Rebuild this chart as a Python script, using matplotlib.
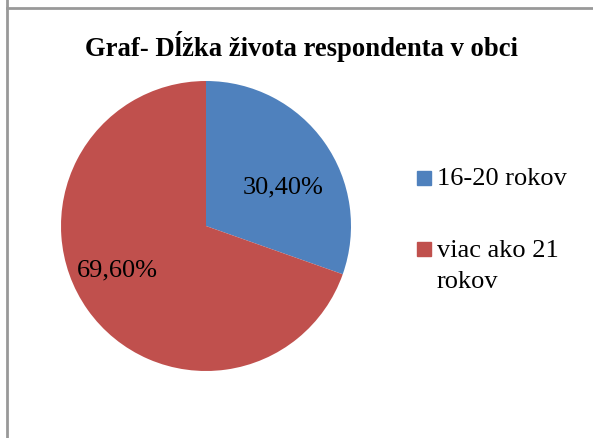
import matplotlib.pyplot as plt
from matplotlib.patches import Rectangle
from matplotlib.lines import Line2D

title = 'Graf- Dĺžka života respondenta v obci'
labels = ['16-20 rokov', 'viac ako 21\nrokov']
values = [30.4, 69.6]
colors = ['#4F81BD', '#C0504D']

W, H = 593, 439
fig = plt.figure(figsize=(W / 100, H / 100), dpi=100)
plt.rcParams['font.family'] = ['Liberation Serif', 'DejaVu Serif']

# pie: centre (206, 227) px, radius 145 px
cx, cy, r = 206, 227, 145
ax = fig.add_axes([(cx - r) / W, (H - cy - r) / H, 2 * r / W, 2 * r / H])


def fmt(p):
    return ('%.2f%%' % p).replace('.', ',')


wedges, _, autotexts = ax.pie(values, colors=colors, startangle=90, counterclock=False,
                              autopct=fmt, pctdistance=0.64,
                              textprops=dict(fontsize=19, color='black'))
# excel "best fit" label spots
autotexts[0].set_position((0.53, 0.27))
autotexts[1].set_position((-0.61, -0.30))
ax.set_xlim(-1, 1)
ax.set_ylim(-1, 1)
ax.set_aspect('equal')
ax.axis('off')

fig.text(301 / W, 1 - 47 / H, title, ha='center', va='center',
         fontsize=19.2, fontweight='bold')

# legend drawn by hand
leg_y = [179, 250]
for i, lab in enumerate(labels):
    y = leg_y[i]
    fig.patches.append(Rectangle((417 / W, 1 - (y + 7) / H), 14 / W, 14 / H,
                                 transform=fig.transFigure, color=colors[i]))
    ty = y + 16.5 * lab.count('\n')
    fig.text(437 / W, 1 - ty / H, lab, ha='left', va='center',
             fontsize=19, linespacing=1.5)

# border lines
fig.lines.append(Line2D([7 / W, 7 / W], [0, 1], transform=fig.transFigure, color='#999999', lw=2))
fig.lines.append(Line2D([7 / W, 1], [1 - 9 / H, 1 - 9 / H], transform=fig.transFigure, color='#999999', lw=2))

fig.savefig('out.png', dpi=100)
